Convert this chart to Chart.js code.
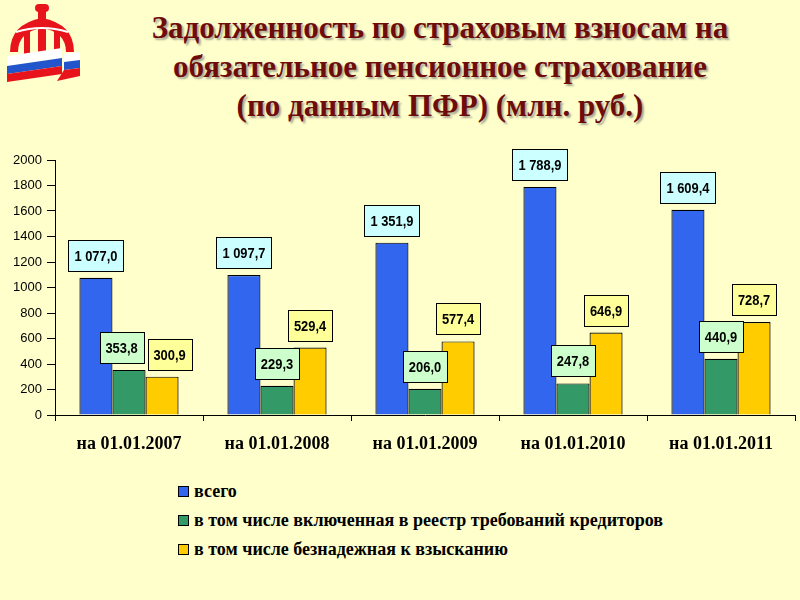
<!DOCTYPE html>
<html><head><meta charset="utf-8">
<script src="https://cdn.jsdelivr.net/npm/chart.js@4"></script>
<style>
html,body{margin:0;padding:0;background:#FFFFCC;width:800px;height:600px;overflow:hidden;position:relative;font-family:"Liberation Sans",Arial,sans-serif}
#title{position:absolute;left:80px;width:720px;top:8px;text-align:center;font-family:"Liberation Serif","Times New Roman",serif;font-weight:bold;font-size:31px;line-height:39px;color:#6E0C0C;text-shadow:2px 2px 2px #a8a890}
#chartwrap{position:absolute;left:0;top:140px;width:800px;height:330px}
#legend{position:absolute;left:178px;top:476px;font-family:"Liberation Serif","Times New Roman",serif;font-weight:bold;font-size:18px;color:#000}
#legend div{height:29px;line-height:20px;display:flex;align-items:center}
#legend span.sw{display:inline-block;width:9px;height:9px;border:1px solid #000;margin-right:5px;margin-top:2px}
#logo{position:absolute;left:2px;top:2px}
</style></head>
<body>
<svg id="logo" width="80" height="80" viewBox="0 0 80 80">
  <path d="M8 50 Q8 22 40 16 Q72 22 72 50 L64 50 Q64 30 40 26 Q16 30 16 50 Z" fill="#E8141B"/>
  <rect x="33" y="2" width="14" height="8" rx="4" fill="#E8141B"/>
  <rect x="36" y="8" width="8" height="44" fill="#E8141B"/>
  <rect x="22" y="28" width="6" height="24" fill="#E8141B"/>
  <rect x="52" y="28" width="6" height="24" fill="#E8141B"/>
  <path d="M14 30 Q40 22 66 30" stroke="#fff" stroke-width="2" fill="none"/>
  <polygon points="5,54 60,46 60,56 5,64" fill="#ffffff"/>
  <polygon points="5,64 60,56 60,64 5,72" fill="#2255CC"/>
  <polygon points="5,72 60,64 60,72 5,80" fill="#E8141B"/>
  <polygon points="62,52 78,50 78,58 62,60" fill="#ffffff"/>
  <polygon points="62,60 78,58 78,66 62,68" fill="#2255CC"/>
  <polygon points="62,68 78,66 78,74 55,79" fill="#E8141B"/>
</svg>
<div id="title">Задолженность по страховым взносам на<br>обязательное пенсионное страхование<br>(по данным ПФР) (млн. руб.)</div>
<div id="chartwrap"><canvas id="c" width="800" height="330"></canvas></div>
<div id="legend"></div>
<script>
const categories = ['на 01.01.2007','на 01.01.2008','на 01.01.2009','на 01.01.2010','на 01.01.2011'];
const seriesNames = ['всего','в том числе включенная в реестр требований кредиторов','в том числе безнадежная к взысканию'];
const totalDebt = [1077.0, 1097.7, 1351.9, 1788.9, 1609.4];
const registryDebt = [353.8, 229.3, 206.0, 247.8, 440.9];
const hopelessDebt = [300.9, 529.4, 577.4, 646.9, 728.7];
const yMin = 0, yMax = 2000, yStep = 200;

const barColors = ['#3366EE','#339966','#FFCC00'];
const labelFills = ['#CCFFFF','#CCFFCC','#FFFF99'];

function fmt(v){
  const s = v.toFixed(1).split('.');
  const int = s[0].replace(/\B(?=(\d{3})+(?!\d))/g,' ');
  return int + ',' + s[1];
}

const labelPlugin = {
  id:'boxLabels',
  afterDatasetsDraw(chart){
    const ctx = chart.ctx;
    const sx = 0.86;
    ctx.save();
    ctx.font = 'bold 15px "Liberation Sans", Arial, sans-serif';
    const n = chart.data.labels.length;
    for (let i = 0; i < n; i++) {
      const boxes = [];
      chart.data.datasets.forEach((ds, di) => {
        const bar = chart.getDatasetMeta(di).data[i];
        const txt = fmt(ds.data[i]);
        const w = Math.round(ctx.measureText(txt).width * sx + 12);
        const h = 31;
        boxes.push({di, txt, w, h, cx: bar.x, y: Math.round(bar.y - 7 - h)});
      });
      for (let k = 1; k < boxes.length; k++) {
        const a = boxes[k-1], b = boxes[k];
        const vOverlap = a.y < b.y + b.h && b.y < a.y + a.h;
        const gap = (b.cx - b.w/2) - (a.cx + a.w/2);
        if (vOverlap && gap < 4) {
          const shift = (4 - gap) / 2;
          a.cx -= shift; b.cx += shift;
        }
      }
      boxes.forEach(bx => {
        const x = Math.round(bx.cx - bx.w/2);
        ctx.fillStyle = labelFills[bx.di];
        ctx.fillRect(x, bx.y, bx.w, bx.h);
        ctx.strokeStyle = '#000';
        ctx.lineWidth = 1;
        ctx.strokeRect(x + 0.5, bx.y + 0.5, bx.w, bx.h);
        ctx.fillStyle = '#000';
        ctx.textAlign = 'center';
        ctx.textBaseline = 'middle';
        ctx.save();
        ctx.translate(bx.cx, bx.y + bx.h/2 + 1);
        ctx.scale(sx, 1);
        ctx.fillText(bx.txt, 0, 0);
        ctx.restore();
      });
    }
    ctx.restore();
  }
};

const chart = new Chart(document.getElementById('c'), {
  type:'bar',
  data:{
    labels: categories,
    datasets:[
      {label: seriesNames[0], data: totalDebt, backgroundColor: barColors[0]},
      {label: seriesNames[1], data: registryDebt, backgroundColor: barColors[1]},
      {label: seriesNames[2], data: hopelessDebt, backgroundColor: barColors[2]}
    ].map(d => Object.assign(d, {borderColor:'#000', borderWidth:1.2, categoryPercentage:0.67, barPercentage:1.0}))
  },
  options:{
    responsive:false,
    animation:false,
    layout:{padding:{left:0,right:5,top:20,bottom:10}},
    plugins:{legend:{display:false}, tooltip:{enabled:false}},
    scales:{
      x:{
        grid:{drawOnChartArea:false, color:'#000', tickLength:6, offset:true},
        border:{color:'#000', width:1},
        ticks:{color:'#000', font:{family:'"Liberation Serif","Times New Roman",serif', size:18, weight:'bold'}, padding:13, maxRotation:0},
        afterFit(s){ s.height = 45; }
      },
      y:{
        min:yMin, max:yMax,
        grid:{drawOnChartArea:false, color:'#000', tickLength:8},
        border:{color:'#000', width:1},
        ticks:{stepSize:yStep, color:'#000', font:{family:'"Liberation Sans",Arial,sans-serif', size:13}, padding:5,
               callback:(v)=>String(v)},
        afterFit(s){ s.width = 55; }
      }
    }
  },
  plugins:[labelPlugin]
});

const leg = document.getElementById('legend');
seriesNames.forEach((n,i)=>{
  const d = document.createElement('div');
  const sw = document.createElement('span');
  sw.className='sw'; sw.style.background = barColors[i];
  d.appendChild(sw);
  d.appendChild(document.createTextNode(n));
  leg.appendChild(d);
});
</script>
</body></html>
